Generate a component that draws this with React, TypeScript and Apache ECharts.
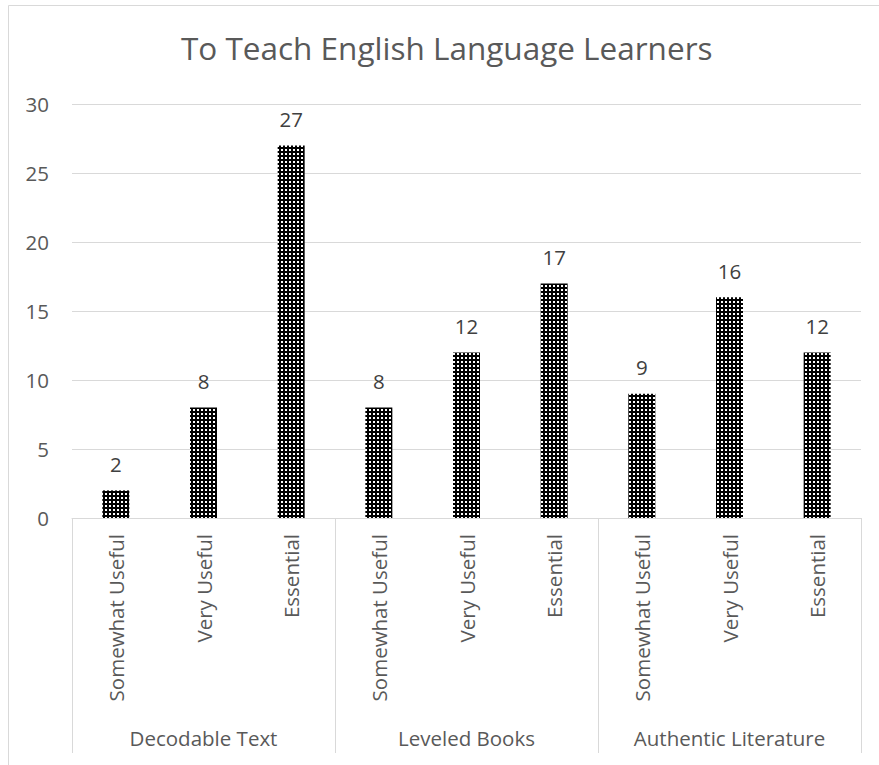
import React, { useEffect, useRef } from "react";
import * as echarts from "echarts";

const title = "To Teach English Language Learners";
const subCategories = [
  "Somewhat Useful", "Very Useful", "Essential",
  "Somewhat Useful", "Very Useful", "Essential",
  "Somewhat Useful", "Very Useful", "Essential",
];
const groups = ["Decodable Text", "Leveled Books", "Authentic Literature"];
const values = [2, 8, 27, 8, 12, 17, 9, 16, 12];
const yMin = 0;
const yMax = 30;
const yStep = 5;

const FONT = "'Open Sans', sans-serif";
const TEXT = "#595959";
const GRID = "#d9d9d9";

function makePattern(): HTMLCanvasElement {
  const c = document.createElement("canvas");
  c.width = 4;
  c.height = 4;
  const ctx = c.getContext("2d")!;
  ctx.fillStyle = "#000000";
  ctx.fillRect(0, 0, 4, 4);
  ctx.fillStyle = "#ffffff";
  ctx.fillRect(1, 1, 2, 2);
  return c;
}

export default function App() {
  const ref = useRef<HTMLDivElement>(null);
  useEffect(() => {
    if (!ref.current) return;
    const chart = echarts.init(ref.current, undefined, { renderer: "svg" });
    const pattern = makePattern();
    chart.setOption({
      animation: false,
      backgroundColor: "#ffffff",
      title: {
        text: title,
        left: 181,
        top: 31,
        padding: 0,
        textStyle: { fontFamily: FONT, fontSize: 31.5, fontWeight: "normal", color: TEXT },
      },
      graphic: [
        {
          type: "rect",
          shape: { x: 8.5, y: 5.5, width: 1000, height: 1000 },
          style: { fill: "none", stroke: GRID, lineWidth: 1 },
          silent: true,
        },
      ],
      grid: { left: 72, right: 18, top: 104, bottom: 247, containLabel: false },
      xAxis: [
        {
          type: "category",
          data: subCategories,
          position: "bottom",
          axisLine: { show: true, lineStyle: { color: GRID, width: 1 } },
          axisTick: { show: false },
          axisLabel: {
            interval: 0,
            rotate: 90,
            margin: 16,
            fontFamily: FONT,
            fontSize: 20.5,
            color: TEXT,
          },
        },
        {
          type: "category",
          data: groups,
          position: "bottom",
          axisLine: { show: false },
          axisTick: { show: true, interval: 0, length: 235, lineStyle: { color: GRID, width: 1 } },
          axisLabel: {
            interval: 0,
            margin: 209,
            fontFamily: FONT,
            fontSize: 20.5,
            color: TEXT,
          },
        },
      ],
      yAxis: {
        type: "value",
        min: yMin,
        max: yMax,
        interval: yStep,
        axisLine: { show: false },
        axisTick: { show: false },
        splitLine: { lineStyle: { color: GRID, width: 1 } },
        axisLabel: { margin: 23, fontFamily: FONT, fontSize: 20.5, color: TEXT },
      },
      series: [
        {
          type: "bar",
          xAxisIndex: 0,
          data: values,
          barWidth: 27,
          itemStyle: { color: { image: pattern, repeat: "repeat" } as any },
          label: {
            show: true,
            position: "top",
            distance: 16,
            fontFamily: FONT,
            fontSize: 20.5,
            color: "#404040",
          },
        },
      ],
    });
    return () => chart.dispose();
  }, []);
  return (
    <div
      ref={ref}
      style={{ position: "absolute", left: 0, top: 0, width: 879, height: 765 }}
    />
  );
}
